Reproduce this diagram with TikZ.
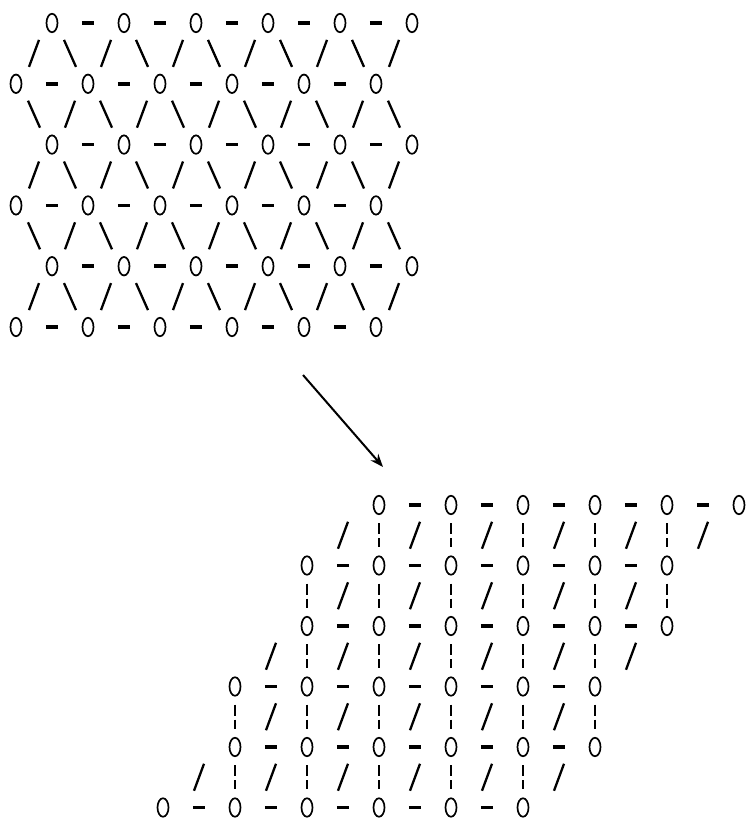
\documentclass[tikz,border=0pt]{standalone}
\usepackage{tikz}
\usetikzlibrary{arrows.meta,calc,shapes.geometric}

\begin{document}
\begin{tikzpicture}[x=1pt,y=-1pt,
    site/.style={draw,ellipse,line width=1.7pt,minimum width=11pt,minimum height=18.5pt,inner sep=0pt},
    hbond/.style={line width=3.5pt,shorten <=23.5pt,shorten >=23.5pt},
    vbond/.style={line width=2.3pt,shorten <=8pt,shorten >=8pt,dash pattern=on 11pt off 4pt},
    slash/.style={line width=2.3pt,to path={($(\tikztostart)!.5!(\tikztotarget)+(-5,13.5)$) -- ++(10,-27)}},
    backslash/.style={line width=2.3pt,to path={($(\tikztostart)!.5!(\tikztotarget)+(-6,-13.5)$) -- ++(12,27)}}]
    \useasboundingbox (0,0) rectangle (745,818);
    % triangular lattice
    \foreach \r in {0,...,5} \foreach \k in {0,...,5} {
        \pgfmathsetmacro\xx{16+36*mod(\r+1,2)+72*\k}
        \node[site] (t\r-\k) at (\xx,23+60.8*\r) {};
    }
    % sheared lattice
    \foreach \r in {0,...,5} \foreach \k in {0,...,5} {
        \pgfmathsetmacro\xx{379-72*int((\r+1)/2)+72*\k}
        \node[site] (b\r-\k) at (\xx,505+60.5*\r) {};
    }
    \foreach \r in {0,...,5} \foreach \k in {0,...,4} {
        \pgfmathtruncatemacro\n{\k+1}
        \draw[hbond] (t\r-\k) -- (t\r-\n);
        \draw[hbond] (b\r-\k) -- (b\r-\n);
    }
    \foreach \r in {0,2,4} {
        \pgfmathtruncatemacro\s{\r+1}
        \foreach \k in {0,...,5} {
            \draw[slash] (t\s-\k) to (t\r-\k);
            \draw[slash] (b\s-\k) to (b\r-\k);
        }
        \foreach \k in {0,...,4} {
            \pgfmathtruncatemacro\n{\k+1}
            \draw[backslash] (t\r-\k) to (t\s-\n);
            \draw[vbond] (b\r-\k) -- (b\s-\n);
        }
    }
    \foreach \r in {1,3} {
        \pgfmathtruncatemacro\s{\r+1}
        \foreach \k in {0,...,5} {
            \draw[backslash] (t\r-\k) to (t\s-\k);
            \draw[vbond] (b\r-\k) -- (b\s-\k);
        }
        \foreach \k in {0,...,4} {
            \pgfmathtruncatemacro\n{\k+1}
            \draw[slash] (t\s-\k) to (t\r-\n);
            \draw[slash] (b\s-\k) to (b\r-\n);
        }
    }
    \coordinate (arrowstart) at (303,375);
    \coordinate (arrowend) at (383,467);
    \draw[line width=2pt,-{Stealth[length=13pt,width=10pt]}] (arrowstart) -- (arrowend);
\end{tikzpicture}
\end{document}
